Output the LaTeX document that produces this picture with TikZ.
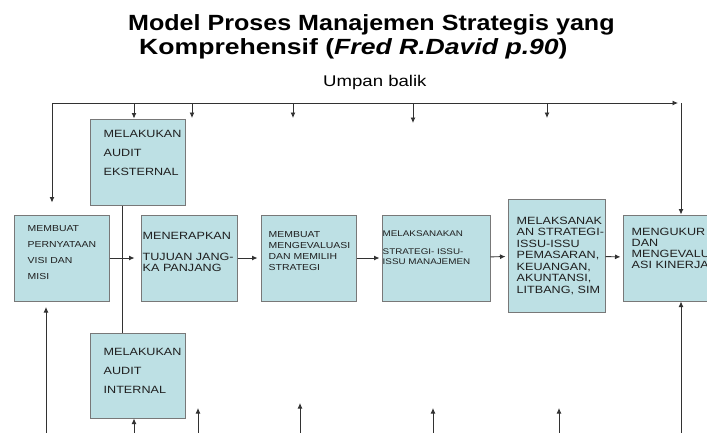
\documentclass[tikz,border=0pt]{standalone}
\usepackage{fontspec}
\setmainfont{Liberation Sans}[FakeStretch=1.2]
\newfontfamily\titlefont{Liberation Sans}[FakeStretch=1.14]
\usetikzlibrary{positioning,arrows.meta}
\definecolor{boxfill}{RGB}{189,224,228}
\definecolor{boxline}{RGB}{120,120,120}
\definecolor{arrowline}{RGB}{50,50,50}
\newcommand{\fsz}[2]{\fontsize{#1}{#2}\selectfont}

\begin{document}
\begin{tikzpicture}[x=1pt,y=1pt,>={Latex[length=5.5pt,width=5pt]}]
    \tikzstyle{every node}+=[inner sep=0pt]
    \tikzstyle{procbox}=[draw=boxline, line width=1pt, fill=boxfill, minimum width=95pt, minimum height=86pt]
    \tikzstyle{boxtext}=[anchor=north west, align=left, text=black!88]
    \tikzstyle{conn}=[draw=arrowline, line width=0.9pt]
    \clip (0,0) rectangle (707,-432);
    % title
    \node [anchor=north west, align=left, font=\titlefont\bfseries\fsz{22}{24}] (title) at (128,-14)
        {Model Proses Manajemen Strategis yang\\ \hspace*{11pt}\scalebox{1.06}[1]{Komprehensif (\textit{Fred R.David p.90})}};
    \node [anchor=base west, font=\fsz{15.5}{18}] (umpan) at (323,-86) {Umpan balik};
    % boxes
    \node [procbox] (eks) at (137.5,-162) {};
    \node [procbox, minimum height=85pt] (int) at (137.5,-375.5) {};
    \node [procbox] (visi) at (61.5,-258) {};
    \node [procbox, minimum width=96pt] (terap) at (189,-258) {};
    \node [procbox] (eval) at (308.5,-258) {};
    \node [procbox, minimum width=108pt] (laks) at (436,-258) {};
    \node [procbox, minimum width=97pt, minimum height=113pt] (fung) at (556.5,-255.5) {};
    \node [procbox, minimum width=96pt] (ukur) at (671,-258) {};
    % box texts
    \node [boxtext, font=\fsz{10.5}{19}, below right=12pt and 14pt of eks.north west] (eks-txt)
        {MELAKUKAN\\AUDIT\\EKSTERNAL};
    \node [boxtext, font=\fsz{10.5}{19}, below right=16pt and 14pt of int.north west] (int-txt)
        {MELAKUKAN\\AUDIT\\INTERNAL};
    \node [boxtext, font=\fsz{8.7}{16}, below right=11pt and 14pt of visi.north west] (visi-txt)
        {MEMBUAT\\PERNYATAAN\\VISI DAN\\MISI};
    \node [boxtext, font=\fsz{10.5}{11}, below right=18pt and 2pt of terap.north west] (terap-txt)
        {MENERAPKAN\\[10pt]TUJUAN JANG-\\KA PANJANG};
    \node [boxtext, font=\fsz{8.7}{11}, below right=17pt and 8pt of eval.north west] (eval-txt)
        {MEMBUAT\\MENGEVALUASI\\DAN MEMILIH\\STRATEGI};
    \node [boxtext, font=\fsz{8.2}{10}, below right=16pt and 1pt of laks.north west] (laks-txt)
        {MELAKSANAKAN\\[8pt]STRATEGI- ISSU-\\ISSU MANAJEMEN};
    \node [boxtext, font=\fsz{10.5}{11.5}, below right=18pt and 9pt of fung.north west] (fung-txt)
        {MELAKSANAK\\AN STRATEGI-\\ISSU-ISSU\\PEMASARAN,\\KEUANGAN,\\AKUNTANSI,\\LITBANG, SIM};
    \node [boxtext, font=\fsz{10.5}{11}, below right=13pt and 9pt of ukur.north west] (ukur-txt)
        {MENGUKUR\\DAN\\MENGEVALU\\ASI KINERJA};
    % feedback loop
    \coordinate (fbL) at (52,-103);
    \coordinate (fbR) at (681,-103);
    \coordinate (fbM) at (678,-103);
    \draw [conn, ->] (fbL) -- (fbM);
    \draw [conn, ->] (fbR) -- (ukur.north -| fbR);
    \draw [conn, ->, shorten >=12pt] (fbL) -- (visi.north -| fbL);
    \draw [conn, ->] (fbL -| 134,0) -- (eks.north -| 134,0);
    \foreach \x/\y in {192/118, 293/118, 413/123, 547/118}
        \draw [conn, ->] (\x,-103) -- (\x,-\y);
    % internal / external link
    \draw [conn] ([xshift=-15.5pt]eks.south) -- ([xshift=-15.5pt]int.north);
    % process chain
    \draw [conn, ->, shorten >=6pt] (visi) -- (terap);
    \draw [conn, ->, shorten >=3pt] (terap) -- (eval);
    \draw [conn, ->, shorten >=2pt] (eval) -- (laks);
    \draw [conn, ->, shorten >=2pt] (laks) -- (fung);
    \draw [conn, ->, shorten >=2pt] (fung) -- (ukur);
    % inputs from below
    \coordinate (bot) at (0,-440);
    \draw [conn, ->] (bot -| 46,0) -- (46,-307);
    \draw [conn, ->] (bot -| 134,0) -- (int.south -| 134,0);
    \draw [conn, ->] (bot -| fbR) -- (ukur.south -| fbR);
    \foreach \x/\y in {198/408, 300/403, 433/408, 559/408}
        \draw [conn, ->] (\x,-440) -- (\x,-\y);
\end{tikzpicture}
\end{document}
